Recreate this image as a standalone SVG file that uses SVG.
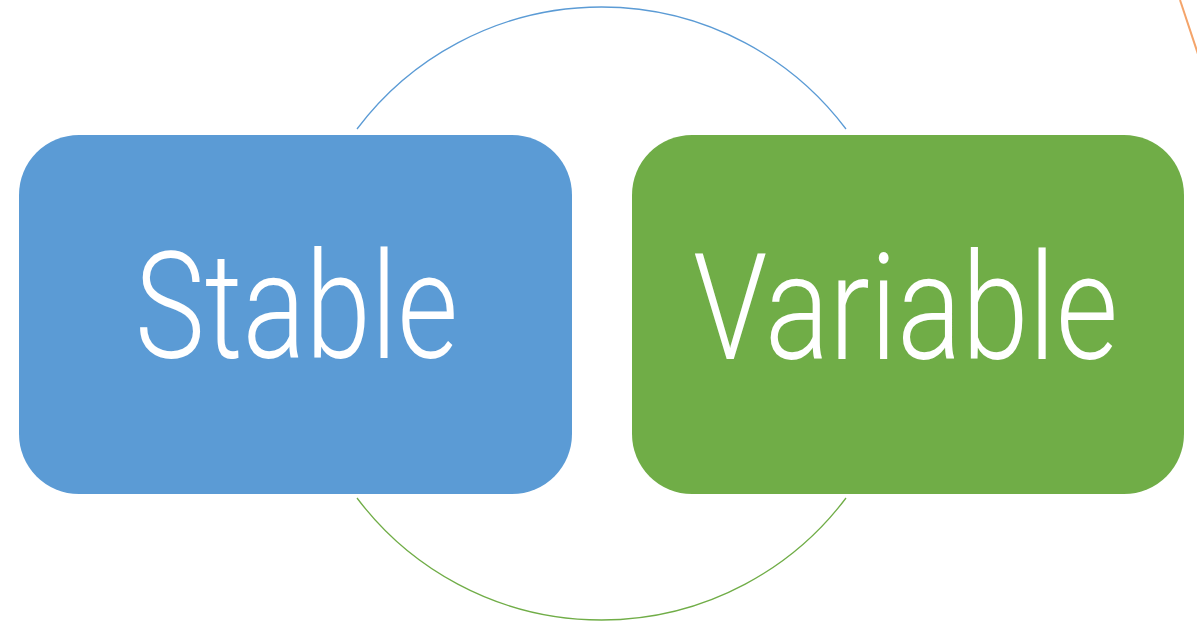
<svg xmlns="http://www.w3.org/2000/svg" width="1197" height="621" viewBox="0 0 1197 621">
<style>
.lbl{font-family:Roboto,"Liberation Sans",sans-serif;font-weight:300;font-size:148px;fill:#FFFFFF}
</style>
<rect width="1197" height="621" fill="#FFFFFF"/>
<g id="connectors" fill="none">
<path d="M357,129 A306,306 0 0 1 846,129" stroke="#5B9BD5" stroke-width="1.3"/>
<path d="M357,498 A306,306 0 0 0 846,498" stroke="#70AD47" stroke-width="1.3"/>
<path d="M1180,0 L1198,54" stroke="#F4A46A" stroke-width="2"/>
</g>
<g id="stable">
<rect x="19" y="135" width="553" height="359" rx="60" ry="60" fill="#5B9BD5"/>
<text class="lbl" x="135" y="358" textLength="323" lengthAdjust="spacingAndGlyphs">Stable</text>
</g>
<g id="variable">
<rect x="632" y="135" width="552" height="359" rx="60" ry="60" fill="#70AD47"/>
<text class="lbl" x="693" y="359" textLength="425" lengthAdjust="spacingAndGlyphs">Variable</text>
</g>
</svg>
